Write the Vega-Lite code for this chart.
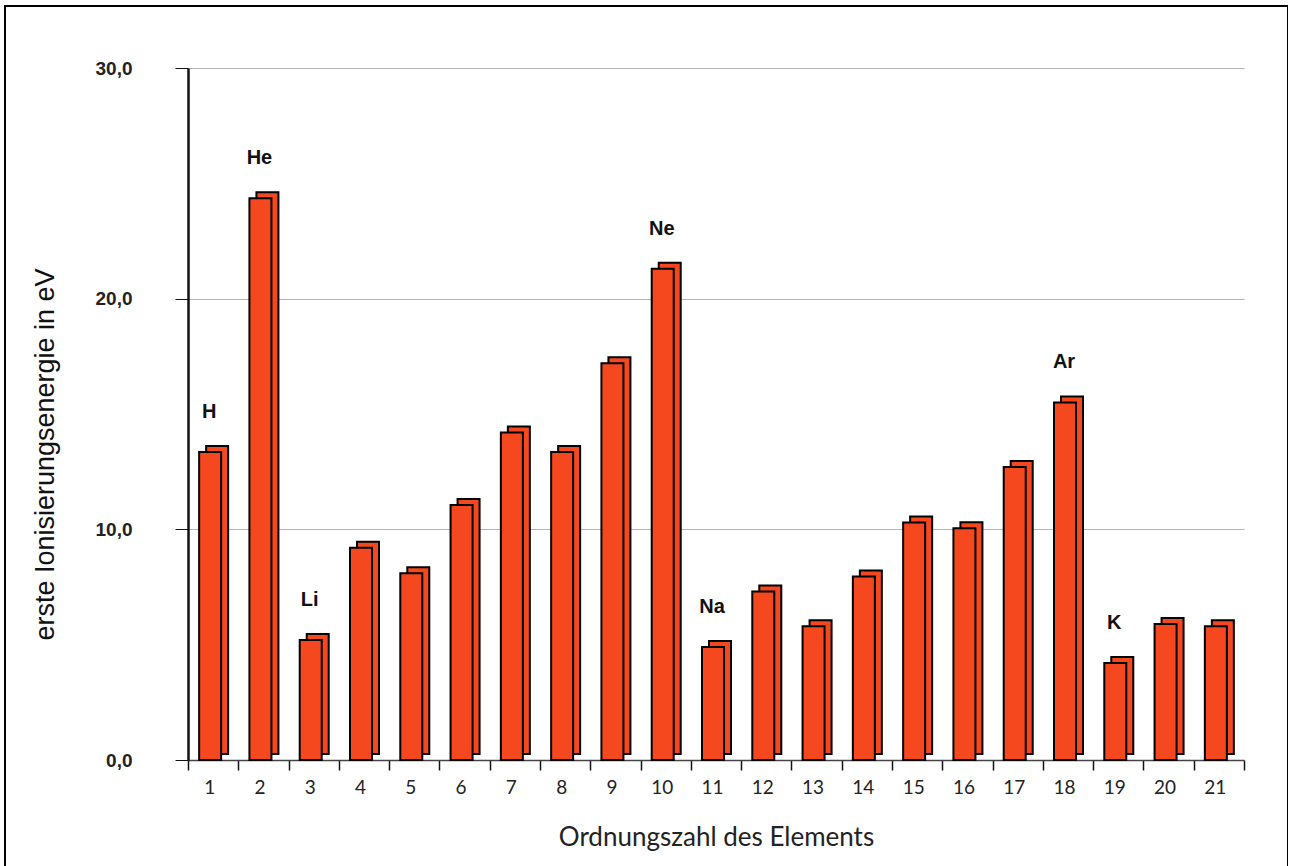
{
  "$schema": "https://vega.github.io/schema/vega-lite/v6.json",
  "width": 1283,
  "height": 870,
  "autosize": {"type": "none"},
  "padding": {"left": 5, "top": 6, "right": 0, "bottom": 0},
  "background": "white",
  "config": {"view": {"stroke": "black", "strokeWidth": 2}},
  "data": {"values": [
    {"z": 1, "e": 13.35, "sym": "H"},
    {"z": 2, "e": 24.35, "sym": "He"},
    {"z": 3, "e": 5.2, "sym": "Li"},
    {"z": 4, "e": 9.2, "sym": ""},
    {"z": 5, "e": 8.1, "sym": ""},
    {"z": 6, "e": 11.05, "sym": ""},
    {"z": 7, "e": 14.2, "sym": ""},
    {"z": 8, "e": 13.35, "sym": ""},
    {"z": 9, "e": 17.2, "sym": ""},
    {"z": 10, "e": 21.3, "sym": "Ne"},
    {"z": 11, "e": 4.9, "sym": "Na"},
    {"z": 12, "e": 7.3, "sym": ""},
    {"z": 13, "e": 5.8, "sym": ""},
    {"z": 14, "e": 7.95, "sym": ""},
    {"z": 15, "e": 10.3, "sym": ""},
    {"z": 16, "e": 10.05, "sym": ""},
    {"z": 17, "e": 12.7, "sym": ""},
    {"z": 18, "e": 15.5, "sym": "Ar"},
    {"z": 19, "e": 4.2, "sym": "K"},
    {"z": 20, "e": 5.9, "sym": ""},
    {"z": 21, "e": 5.8, "sym": ""}
  ]},
  "encoding": {
    "x": {
      "field": "z", "type": "ordinal", "sort": null,
      "scale": {"range": [183, 1239], "paddingInner": 0, "paddingOuter": 0},
      "axis": {
        "orient": "bottom", "offset": -116, "labelAngle": 0,
        "domainColor": "#444", "domainWidth": 1.5,
        "tickColor": "#111", "tickSize": 10, "tickWidth": 1.5, "tickBand": "extent",
        "labelOffset": -4, "labelPadding": 8,
        "labelFont": "Lato", "labelFontSize": 19, "labelColor": "#222",
        "title": "Ordnungszahl des Elements",
        "titleFont": "Lato", "titleFontSize": 26, "titleFontWeight": "normal",
        "titleColor": "#222", "titlePadding": 27,
        "grid": false
      }
    },
    "y": {
      "field": "e", "type": "quantitative",
      "scale": {"domain": [0, 30], "range": [754, 62], "nice": false},
      "axis": {
        "orient": "left", "offset": -183, "values": [0, 10, 20, 30],
        "labelExpr": "replace(format(datum.value, '.1f'), '.', ',')",
        "domainColor": "#111", "domainWidth": 2.5,
        "tickColor": "#111", "tickSize": 13, "tickWidth": 1,
        "grid": true, "gridColor": "#b4b4b4", "gridWidth": 1,
        "labelPadding": 43, "labelFont": "Liberation Sans", "labelFontSize": 19,
        "labelFontWeight": "bold", "labelColor": "#222",
        "title": "erste Ionisierungsenergie in eV",
        "titleFont": "Liberation Sans", "titleFontSize": 27, "titleFontWeight": "normal",
        "titleColor": "#111", "titlePadding": 36, "titleY": 448
      }
    }
  },
  "layer": [
    {
      "mark": {"type": "bar", "width": 22, "xOffset": 4, "yOffset": -6,
               "fill": "#F5481F", "stroke": "black", "strokeWidth": 2}
    },
    {
      "mark": {"type": "bar", "width": 22, "xOffset": -3,
               "fill": "#F5481F", "stroke": "black", "strokeWidth": 2}
    },
    {
      "mark": {"type": "text", "dy": -40, "xOffset": -4, "font": "Liberation Sans",
               "fontSize": 20, "fontWeight": "bold", "color": "#111"},
      "encoding": {"text": {"field": "sym"}}
    }
  ]
}
